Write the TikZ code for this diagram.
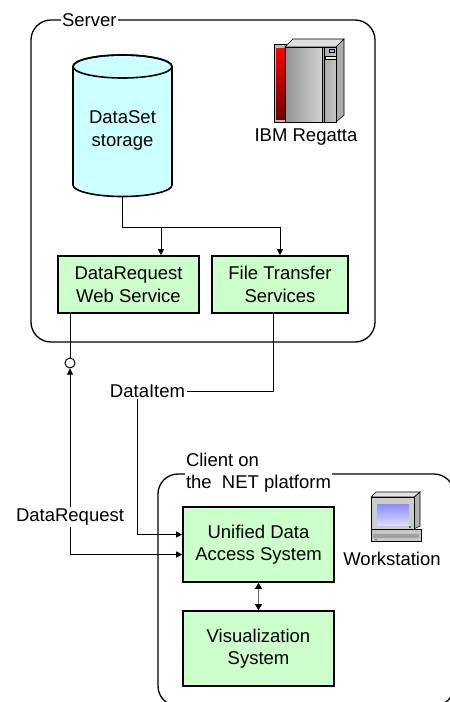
\documentclass[tikz,border=0pt]{standalone}
\usepackage{fontspec}
\setmainfont{Liberation Sans}
\usepackage{tikz}
\usetikzlibrary{arrows.meta, positioning}
\tikzset{>={Triangle[length=6pt,width=6pt]}}

\definecolor{svcgreen}{HTML}{CCFFCC}
\definecolor{diskcyan}{HTML}{CCFFFF}

\begin{document}
\begin{tikzpicture}[x=1pt, y=-1pt, line width=1pt,
	font=\fontsize{18.5}{22.5}\selectfont,
	svc/.style={draw, line width=1.6pt, fill=svcgreen, align=center, inner sep=0pt},
	tag/.style={fill=white, inner sep=1.5pt, align=left},
	icon/.style={draw, line width=0.6pt}]
	\useasboundingbox (0,0) rectangle (450,702);
	\clip (0,0) rectangle (450,702);

	% server
	\draw [line width=1.3pt, rounded corners=20] (31,20) rectangle (375,342);
	\node [tag, anchor=west] (server) at (60,20) {Server};
	% storage drum
	\draw [line width=1.6pt, fill=diskcyan] (73,66.5) -- (73,185)
		arc [start angle=180, end angle=360, x radius=49.5pt, y radius=11.5pt] -- (172,66.5)
		arc [start angle=0, end angle=180, x radius=49.5pt, y radius=11.5pt] -- cycle;
	\draw [line width=1.6pt] (122.5,66.5) ellipse [x radius=49.5pt, y radius=11.5pt];
	\node [align=center] (store) at (122.5,130.5) {DataSet\\storage};
	\coordinate (storebase) at (122.5,196.5);
	\node [svc, minimum width=141, minimum height=57] (dr) at (128.5,284.5) {DataRequest\\Web Service};
	\node [svc, minimum width=136, minimum height=57] (ft) at (280,284.5) {File Transfer\\Services};
	\draw [->] (storebase) -- ++(0,30.5) coordinate (fork) -| (ft.north);
	\draw [->] (fork) -| ([xshift=32.5]dr.north);

	% regatta box
	\draw [icon, fill=gray!55] (274,44) rectangle (286,122);
	\shade [top color=red, bottom color=red!45!black] (276,48) rectangle (285,119);
	\draw [icon, fill=gray!25] (285,47) -- (293,39) -- (344,39) -- (336,47) -- cycle;
	\draw [icon, fill=gray!65] (336,47) -- (344,39) -- (344,115) -- (336,122) -- cycle;
	\shadedraw [icon, left color=gray!85, right color=gray!35] (285,47) rectangle (322,122);
	\shadedraw [icon, left color=gray!70, right color=gray!45] (322,47) rectangle (336,122);
	\draw [line width=0.4pt] (324,47) -- (324,122);
	\draw [line width=0.4pt, fill=blue!30] (329,49) rectangle (334,52);
	\draw [line width=0.4pt, fill=green!20] (325,56) rectangle (336,59);
	\node (regatta) at (306,137) {IBM Regatta};

	% client
	\draw [line width=1.3pt, rounded corners=20] (158,474) rectangle (454,706);
	\node [tag, anchor=west] (client) at (184,472.5) {Client on\\the\ \ NET platform};
	\node [svc, minimum width=151, minimum height=75] (udas) at (258.5,544.5) {Unified Data\\Access System};
	\node [svc, minimum width=151, minimum height=75] (vis) at (258.5,648.5) {Visualization\\System};
	\draw [{Triangle[length=6pt,width=7pt,color=black]}-{Triangle[length=6pt,width=7pt,color=black]},
		black!60, line width=1.4pt] (udas) -- (vis);

	% workstation
	\draw [icon, fill=gray!60] (414,497) -- (420,492) -- (420,526) -- (414,529) -- cycle;
	\draw [icon, fill=gray!20] (371,497) -- (376,492) -- (420,492) -- (414,497) -- cycle;
	\draw [icon, fill=gray!40] (371,497) rectangle (414,529);
	\shade [top color=blue!45, bottom color=blue!15] (377,504) rectangle (409,525);
	\draw [icon, fill=gray!45] (371,529) rectangle (421,541);
	\fill [gray!75] (373,534) rectangle (419,538);
	\fill [green!70!black] (375,539) rectangle (377,540);
	\fill [green!70!black] (409,526) rectangle (411,527.5);
	\node (ws) at (392,559) {Workstation};

	% requests and items
	\node [circle, draw, fill=white, minimum size=10, inner sep=0pt] (iface) at (70,363) {};
	\draw (iface) -- (iface |- dr.south);
	\draw [<->] (iface) |- ([yshift=-10]udas.west);
	\node [tag] (reqlabel) at (70,517) {DataRequest};
	\node [tag] (itemlabel) at (147.5,391) {DataItem};
	\draw ([xshift=-7]ft.south) |- (itemlabel);
	\draw [->] ([xshift=-10]itemlabel.south) |- ([yshift=10]udas.west);
\end{tikzpicture}
\end{document}
